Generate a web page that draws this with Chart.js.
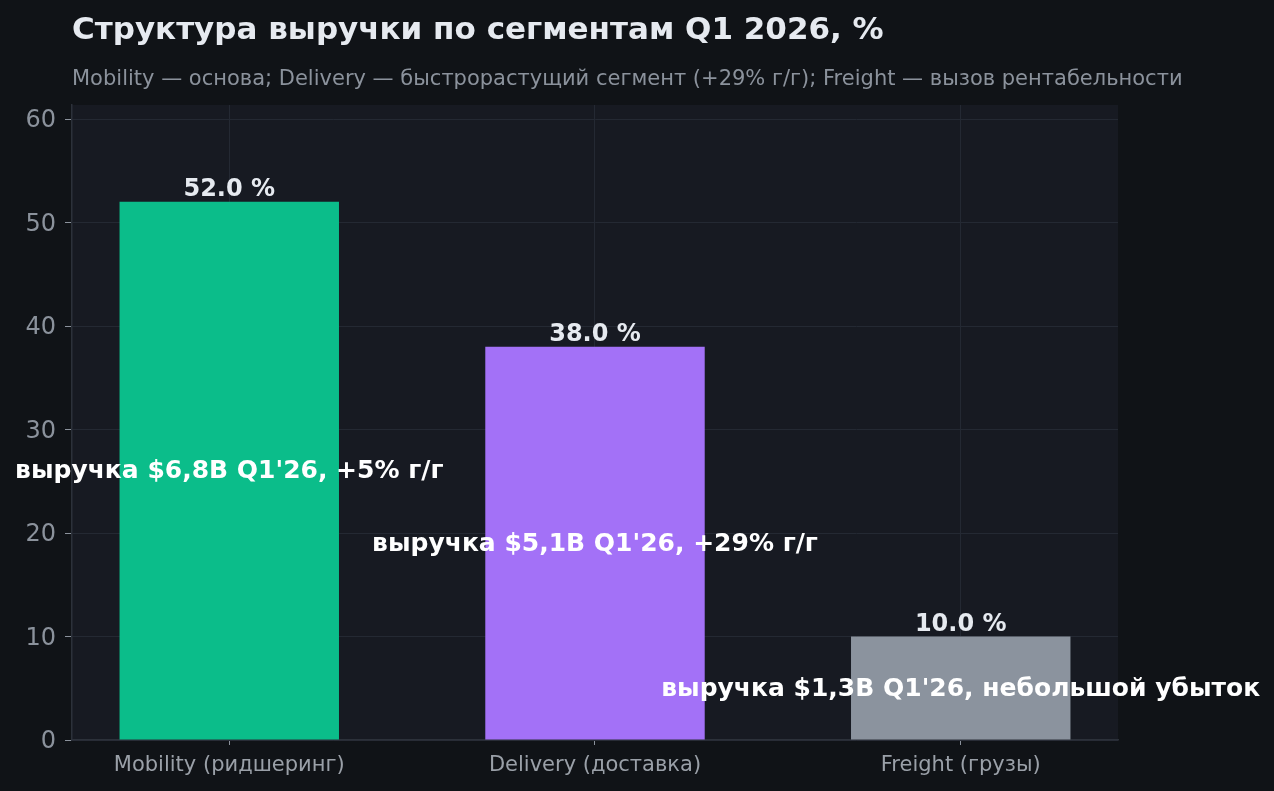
<!DOCTYPE html>
<html lang="ru">
<head>
<meta charset="utf-8">
<title>Структура выручки по сегментам Q1 2026</title>
<script src="https://cdn.jsdelivr.net/npm/chart.js@4/dist/chart.umd.min.js"></script>
<style>
    html, body { margin: 0; padding: 0; background: #101317; }
    #wrap { width: 1274px; height: 791px; }
</style>
</head>
<body>
<div id="wrap"><canvas id="revenueChart" width="1274" height="791"></canvas></div>
<script>
// Chart data
const categories = ['Mobility (ридшеринг)', 'Delivery (доставка)', 'Freight (грузы)'];
const shares = [52.0, 38.0, 10.0];
const notes = [
    "выручка $6,8B Q1'26, +5% г/г",
    "выручка $5,1B Q1'26, +29% г/г",
    "выручка $1,3B Q1'26, небольшой убыток"
];
const barColors = ['#0bbd8a', '#a371f7', '#8b939e'];
const yTicks = [0, 10, 20, 30, 40, 50, 60];

const titleText = 'Структура выручки по сегментам Q1 2026, %';
const subtitleText = 'Mobility — основа; Delivery — быстрорастущий сегмент (+29% г/г); Freight — вызов рентабельности';

const FONT = '"DejaVu Sans", sans-serif';

// Backgrounds, titles and bar labels
const decorPlugin = {
    id: 'decor',
    beforeDraw(chart) {
        const { ctx, chartArea } = chart;
        ctx.save();
        ctx.fillStyle = '#101317';
        ctx.fillRect(0, 0, chart.width, chart.height);
        ctx.fillStyle = '#171a22';
        ctx.fillRect(chartArea.left, chartArea.top, chartArea.right - chartArea.left, chartArea.bottom - chartArea.top);

        ctx.textAlign = 'left';
        ctx.textBaseline = 'alphabetic';
        ctx.fillStyle = '#e6eaf0';
        ctx.font = 'bold 31px ' + FONT;
        ctx.fillText(titleText, 72, 39);
        ctx.fillStyle = '#8b929c';
        ctx.font = '21px ' + FONT;
        ctx.fillText(subtitleText, 72, 85);
        ctx.restore();
    },
    afterDatasetsDraw(chart) {
        const { ctx } = chart;
        const meta = chart.getDatasetMeta(0);
        const yScale = chart.scales.y;
        ctx.save();
        ctx.textAlign = 'center';
        meta.data.forEach((bar, i) => {
            // value above bar
            ctx.fillStyle = '#e6eaf0';
            ctx.font = 'bold 24px ' + FONT;
            ctx.textBaseline = 'alphabetic';
            ctx.fillText(shares[i].toFixed(1) + ' %', bar.x, bar.y - 6);

            // note in the middle of the bar
            ctx.fillStyle = '#ffffff';
            ctx.font = 'bold 25px ' + FONT;
            ctx.textBaseline = 'middle';
            ctx.fillText(notes[i], bar.x, yScale.getPixelForValue(shares[i] / 2) + 1);
        });
        ctx.restore();
    }
};

const ctx = document.getElementById('revenueChart');
new Chart(ctx, {
    type: 'bar',
    data: {
        datasets: [{
            data: shares.map((v, i) => ({ x: i, y: v })),
            backgroundColor: barColors,
            borderWidth: 0,
            barPercentage: 0.6,
            categoryPercentage: 1.0
        }]
    },
    options: {
        responsive: false,
        animation: false,
        devicePixelRatio: 1,
        layout: { padding: { top: 105, right: 156, bottom: 0, left: 0 } },
        plugins: {
            legend: { display: false },
            tooltip: { enabled: false }
        },
        scales: {
            x: {
                type: 'linear',
                min: -0.43,
                max: 2.43,
                offset: false,
                afterBuildTicks(scale) {
                    scale.ticks = categories.map((c, i) => ({ value: i }));
                },
                afterFit(scale) { scale.height = 51; },
                ticks: {
                    color: '#9aa0a8',
                    font: { family: FONT, size: 21 },
                    padding: 8,
                    maxRotation: 0,
                    autoSkip: false,
                    callback: (v) => categories[v]
                },
                grid: {
                    offset: false,
                    color: '#242933',
                    lineWidth: 1,
                    tickColor: '#8b929c',
                    tickLength: 5
                },
                border: { display: true, color: '#2c313a', width: 1.5 }
            },
            y: {
                min: 0,
                max: 61.36,
                afterBuildTicks(scale) {
                    scale.ticks = yTicks.map(v => ({ value: v }));
                },
                afterFit(scale) { scale.width = 72; },
                ticks: {
                    color: '#8b929c',
                    font: { family: FONT, size: 24 },
                    padding: 9,
                    labelOffset: 2
                },
                grid: {
                    color: '#242933',
                    lineWidth: 1,
                    tickColor: '#8b929c',
                    tickLength: 7
                },
                border: { display: true, color: '#2c313a', width: 1.5 }
            }
        }
    },
    plugins: [decorPlugin]
});
</script>
</body>
</html>
